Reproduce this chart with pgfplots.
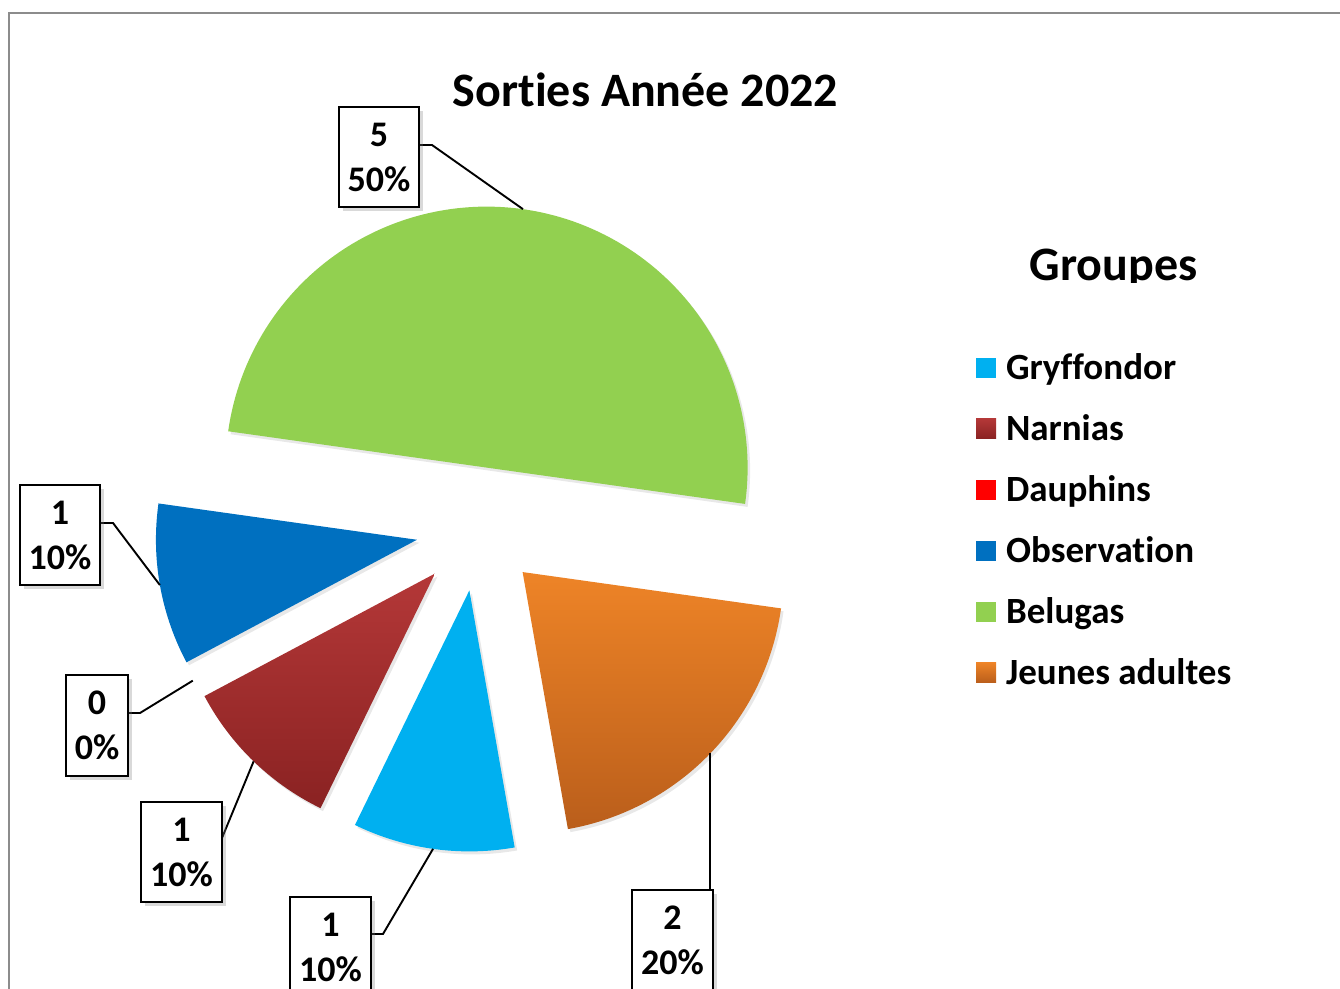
\documentclass[border=0pt]{standalone}
\usepackage{pgfplots}
\pgfplotsset{compat=1.18}
\usepackage{pgfplotstable}
\usepackage{fontspec}
\setmainfont{Carlito}[Ligatures=NoCommon]
\usetikzlibrary{shadows}

\definecolor{gryff}{HTML}{00B0F0}
\definecolor{narnT}{HTML}{B43838}
\definecolor{narnB}{HTML}{8A2222}
\definecolor{dauph}{HTML}{FF0000}
\definecolor{obs}{HTML}{0070C0}
\definecolor{bel}{HTML}{92D050}
\definecolor{jeuT}{HTML}{EE8427}
\definecolor{jeuB}{HTML}{BA5E1B}
\definecolor{framegray}{HTML}{8C8C8C}

\pgfplotstableread[col sep=comma]{
name,value
Gryffondor,1
Narnias,1
Dauphins,0
Observation,1
Belugas,5
Jeunes adultes,2
}\sorties

% pie geometry, in pixels of the picture
\def\cx{478}\def\cy{529}\def\R{261}\def\dx{62}\def\startang{-80}

\newcommand\slicegeom[2]{%
  \pgfplotstablegetelem{#1}{value}\of\sorties
  \pgfmathsetmacro\tmpv{\pgfplotsretval}%
  \pgfmathsetmacro\tmps{\startang-360*\cum/\total}%
  \pgfmathsetmacro\tmpe{\startang-360*(\cum+\tmpv)/\total}%
  \pgfmathsetmacro\tmpm{(\tmps+\tmpe)/2}%
  \pgfmathsetmacro\tmpox{\cx+\dx*cos(\tmpm)}%
  \pgfmathsetmacro\tmpoy{\cy-\dx*sin(\tmpm)}%
  \pgfmathsetmacro\tmpsx{\tmpox+2.5}%
  \pgfmathsetmacro\tmpsy{\tmpoy+3}%
  \pgfmathsetmacro\tmplx{\cx+(\dx+\R)*cos(\tmpm)}%
  \pgfmathsetmacro\tmply{\cy-(\dx+\R)*sin(\tmpm)}%
  \pgfmathtruncatemacro\tmpvi{\tmpv}%
  \pgfmathtruncatemacro\tmppi{round(100*\tmpv/\total)}%
  \expandafter\xdef\csname val#2\endcsname{\tmpvi}%
  \expandafter\xdef\csname pct#2\endcsname{\tmppi}%
  \expandafter\xdef\csname s#2\endcsname{\tmps}%
  \expandafter\xdef\csname e#2\endcsname{\tmpe}%
  \expandafter\xdef\csname ox#2\endcsname{\tmpox}%
  \expandafter\xdef\csname oy#2\endcsname{\tmpoy}%
  \expandafter\xdef\csname shx#2\endcsname{\tmpsx}%
  \expandafter\xdef\csname shy#2\endcsname{\tmpsy}%
  \expandafter\xdef\csname lx#2\endcsname{\tmplx}%
  \expandafter\xdef\csname ly#2\endcsname{\tmply}%
  \pgfmathsetmacro\tmpc{\cum+\tmpv}\xdef\cum{\tmpc}%
}

\tikzset{
  lbl/.style={draw=black, fill=white, line width=1pt, align=center,
    inner xsep=4.5pt, inner ysep=0pt, minimum height=50pt,
    font=\fontsize{18}{22.5}\selectfont\bfseries,
    drop shadow={shadow xshift=2pt, shadow yshift=-2pt, opacity=0.3}},
  leader/.style={draw=black, line width=0.95pt},
}
\pgfplotsset{shad/.style={forget plot, draw=none, fill=black, fill opacity=0.09}}

\begin{document}
\begin{tikzpicture}
\def\total{0}
\pgfplotstableforeachcolumnelement{value}\of\sorties\as\v{\pgfmathsetmacro\tmpt{\total+\v}\xdef\total{\tmpt}}
\def\cum{0}
\slicegeom{0}{A}
\slicegeom{1}{B}
\slicegeom{2}{C}
\slicegeom{3}{D}
\slicegeom{4}{E}
\slicegeom{5}{F}

\begin{axis}[
  at={(0,0)}, anchor=south west,
  width=670pt, height=494.5pt, scale only axis,
  xmin=0, xmax=1340, ymin=0, ymax=989, y dir=reverse,
  hide axis, clip=false,
  legend cell align=left,
  legend image code/.code={\path[#1, draw=none] (0pt,-5pt) rectangle (10pt,5pt);},
  legend style={at={(0.7284,0.6481)}, anchor=north west, draw=none, fill=none,
    inner sep=0pt, outer sep=0pt, row sep=10.9pt, column sep=5pt,
    font=\fontsize{18.5}{22.5}\selectfont\bfseries,
    nodes={inner sep=0pt, text height=15.6pt, text depth=4pt}},
]
% Gryffondor
\addplot[shad, domain=\eA:\sA, samples=60, variable=\t]
  ({\shxA+\R*cos(\t)}, {\shyA-\R*sin(\t)}) -- (axis cs:\shxA,\shyA) -- cycle;
\addplot[draw=none, fill=gryff, domain=\eA:\sA, samples=60, variable=\t]
  ({\oxA+\R*cos(\t)}, {\oyA-\R*sin(\t)}) -- (axis cs:\oxA,\oyA) -- cycle;
\addlegendentry{Gryffondor}
% Narnias
\addplot[shad, domain=\eB:\sB, samples=60, variable=\t]
  ({\shxB+\R*cos(\t)}, {\shyB-\R*sin(\t)}) -- (axis cs:\shxB,\shyB) -- cycle;
\addplot[draw=none, top color=narnT, bottom color=narnB, domain=\eB:\sB, samples=60, variable=\t]
  ({\oxB+\R*cos(\t)}, {\oyB-\R*sin(\t)}) -- (axis cs:\oxB,\oyB) -- cycle;
\addlegendentry{Narnias}
% Dauphins (value 0: no slice)
\addlegendimage{fill=dauph, draw=none}
\addlegendentry{Dauphins}
% Observation
\addplot[shad, domain=\eD:\sD, samples=60, variable=\t]
  ({\shxD+\R*cos(\t)}, {\shyD-\R*sin(\t)}) -- (axis cs:\shxD,\shyD) -- cycle;
\addplot[draw=none, fill=obs, domain=\eD:\sD, samples=60, variable=\t]
  ({\oxD+\R*cos(\t)}, {\oyD-\R*sin(\t)}) -- (axis cs:\oxD,\oyD) -- cycle;
\addlegendentry{Observation}
% Belugas
\addplot[shad, domain=\eE:\sE, samples=120, variable=\t]
  ({\shxE+\R*cos(\t)}, {\shyE-\R*sin(\t)}) -- (axis cs:\shxE,\shyE) -- cycle;
\addplot[draw=none, fill=bel, domain=\eE:\sE, samples=120, variable=\t]
  ({\oxE+\R*cos(\t)}, {\oyE-\R*sin(\t)}) -- (axis cs:\oxE,\oyE) -- cycle;
\addlegendentry{Belugas}
% Jeunes adultes
\addplot[shad, domain=\eF:\sF, samples=80, variable=\t]
  ({\shxF+\R*cos(\t)}, {\shyF-\R*sin(\t)}) -- (axis cs:\shxF,\shyF) -- cycle;
\addplot[draw=none, top color=jeuT, bottom color=jeuB, domain=\eF:\sF, samples=80, variable=\t]
  ({\oxF+\R*cos(\t)}, {\oyF-\R*sin(\t)}) -- (axis cs:\oxF,\oyF) -- cycle;
\addlegendentry{Jeunes adultes}

% leader lines
\draw[leader] (axis cs:420,145) -- (axis cs:432,145) -- (axis cs:\lxE,\lyE);
\draw[leader] (axis cs:100,523) -- (axis cs:113,523) -- (axis cs:\lxD,\lyD);
\draw[leader] (axis cs:128,713) -- (axis cs:140,713) -- (axis cs:\lxC,\lyC);
\draw[leader] (axis cs:222,838) -- (axis cs:\lxB,\lyB);
\draw[leader] (axis cs:371,934) -- (axis cs:383,934) -- (axis cs:\lxA,\lyA);
\draw[leader] (axis cs:\lxF,890) -- (axis cs:\lxF,\lyF);

% data labels
\node[lbl] at (axis cs:379,157) {\valE\\\pctE\%};
\node[lbl] at (axis cs:60,535) {\valD\\\pctD\%};
\node[lbl] at (axis cs:97,725.5) {\valC\\\pctC\%};
\node[lbl] at (axis cs:181.5,852) {\valB\\\pctB\%};
\node[lbl] at (axis cs:330.5,947) {\valA\\\pctA\%};
\node[lbl] at (axis cs:672.5,940) {\valF\\\pctF\%};
\end{axis}

\begin{scope}[x=0.5pt, y=-0.5pt, shift={(0pt,494.5pt)}]
  \draw[framegray, line width=1.2pt] (9,1000) -- (9,13) -- (1345,13);
  \node[anchor=base, font=\fontsize{24}{28.8}\selectfont\bfseries, inner sep=0pt] at (645.5,107) {Sorties Année 2022};
  \begin{scope}
    \clip (900,200) rectangle (1340,283);
    \node[anchor=base, font=\fontsize{24}{28.8}\selectfont\bfseries, inner sep=0pt] at (1113.5,281) {Groupes};
  \end{scope}
\end{scope}
\pgfresetboundingbox
\path (0,0) rectangle (670pt,494.5pt);
\end{tikzpicture}
\end{document}
